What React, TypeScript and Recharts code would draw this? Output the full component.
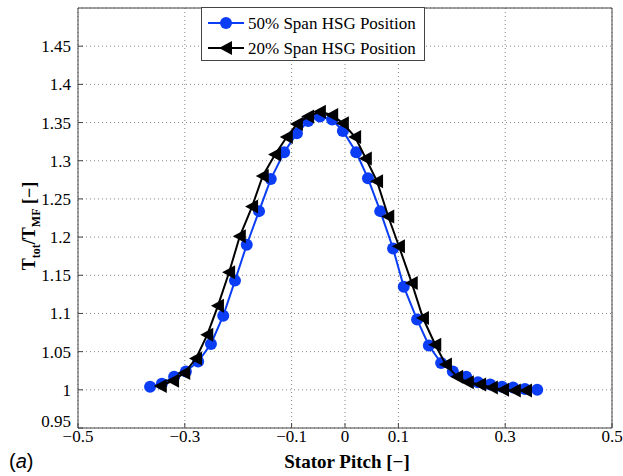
import React from "react";
import {
  ScatterChart,
  Scatter,
  XAxis,
  YAxis,
  CartesianGrid,
  ReferenceArea,
} from "recharts";

// 50% span HSG position (blue circles)
const span50X = [
  -0.365, -0.343, -0.32, -0.298, -0.275, -0.251, -0.228, -0.206, -0.184, -0.161, -0.139,
  -0.114, -0.09, -0.069, -0.047, -0.024, -0.004, 0.021, 0.043, 0.066, 0.09, 0.11,
  0.135, 0.157, 0.18, 0.202, 0.227, 0.249, 0.272, 0.294, 0.315, 0.337, 0.36,
];
const span50Y = [
  1.004, 1.008, 1.017, 1.024, 1.037, 1.06, 1.097, 1.143, 1.19, 1.234, 1.276,
  1.311, 1.336, 1.352, 1.358, 1.354, 1.339, 1.311, 1.277, 1.234, 1.185, 1.135,
  1.092, 1.058, 1.035, 1.024, 1.017, 1.01, 1.007, 1.004, 1.003, 1.001, 1.0,
];

// 20% span HSG position (black triangles)
const span20X = [
  -0.345, -0.322, -0.301, -0.279, -0.258, -0.238, -0.217, -0.197, -0.174, -0.154, -0.131,
  -0.109, -0.09, -0.069, -0.047, -0.024, -0.004, 0.019, 0.039, 0.06, 0.081, 0.101,
  0.125, 0.146, 0.169, 0.189, 0.21, 0.23, 0.253, 0.275, 0.296, 0.318, 0.339,
];
const span20Y = [
  1.005, 1.012, 1.022, 1.041, 1.072, 1.11, 1.154, 1.201, 1.24, 1.28, 1.308,
  1.331, 1.348, 1.358, 1.364, 1.36, 1.349, 1.331, 1.303, 1.273, 1.227, 1.188,
  1.14, 1.094, 1.059, 1.033, 1.017, 1.01, 1.007, 1.003, 1.0, 0.999, 0.999,
];

const xTicks = [-0.5, -0.3, -0.1, 0, 0.1, 0.3, 0.5];
const yTicks = [0.95, 1, 1.05, 1.1, 1.15, 1.2, 1.25, 1.3, 1.35, 1.4, 1.45];

const BLUE = "#0b3df5";
const AXIS = "#444";
const SERIF = "'Liberation Serif', 'Times New Roman', serif";
const MINUS = "\u2212";

const blueData = span50X.map((x, i) => ({ x, y: span50Y[i] }));
const blackData = span20X.map((x, i) => ({ x, y: span20Y[i] }));

const fmt = (v: number) => (v < 0 ? MINUS + Math.abs(v) : String(v));

const Dot = (props: any) => <circle cx={props.cx} cy={props.cy} r={6} fill={BLUE} />;

const Tri = (props: any) => {
  const { cx, cy } = props;
  return (
    <polygon
      points={`${cx - 7},${cy} ${cx + 6},${cy - 7} ${cx + 6},${cy + 7}`}
      fill="#000"
    />
  );
};

// matlab puts the bottom y label a bit higher than its tick
const YTick = (props: any) => {
  const { x, y, payload } = props;
  const lift = payload.value === 0.95 ? -7 : 0;
  return (
    <text
      x={x}
      y={y + lift}
      dy="0.355em"
      textAnchor="end"
      fontFamily={SERIF}
      fontSize={17}
      fill="#000"
    >
      {String(payload.value)}
    </text>
  );
};

const LegendBox = () => (
  <svg
    width={224}
    height={54}
    style={{ position: "absolute", left: 201, top: 7, overflow: "visible" }}
  >
    <rect x={0.5} y={0.5} width={223} height={53} fill="#fff" stroke={AXIS} />
    <line x1={7} x2={43} y1={16} y2={16} stroke={BLUE} strokeWidth={2} />
    <circle cx={25} cy={16} r={6} fill={BLUE} />
    <text x={47} y={22} fontFamily={SERIF} fontSize={17}>
      50% Span HSG Position
    </text>
    <line x1={7} x2={43} y1={41} y2={41} stroke="#000" strokeWidth={2} />
    <polygon points="18,41 31,34 31,48" fill="#000" />
    <text x={47} y={47} fontFamily={SERIF} fontSize={17}>
      20% Span HSG Position
    </text>
  </svg>
);

export default function App() {
  return (
    <div style={{ position: "absolute", left: 0, top: 0, width: 623, height: 476, background: "#fff" }}>
      <ScatterChart
        width={623}
        height={476}
        margin={{ top: 8, right: 11, bottom: 0, left: 0 }}
      >
        <CartesianGrid stroke="#888" strokeDasharray="1 3" />
        <XAxis
          dataKey="x"
          type="number"
          domain={[-0.5, 0.5]}
          ticks={xTicks}
          tickFormatter={fmt}
          height={48}
          axisLine={false}
          tickLine={{ stroke: AXIS }}
          tickSize={-5}
          tickMargin={7}
          tick={{ fill: "#000", fontSize: 17, fontFamily: SERIF }}
          interval={0}
        />
        <XAxis
          xAxisId="top"
          orientation="top"
          type="number"
          domain={[-0.5, 0.5]}
          ticks={xTicks}
          height={0}
          axisLine={false}
          tickLine={{ stroke: AXIS }}
          tickSize={-5}
          tick={false}
          interval={0}
        />
        <YAxis
          dataKey="y"
          type="number"
          domain={[0.95, 1.5]}
          ticks={yTicks}
          width={78}
          axisLine={false}
          tickLine={{ stroke: AXIS }}
          tickSize={-5}
          tickMargin={12}
          tick={<YTick />}
          interval={0}
          allowDataOverflow
        />
        <YAxis
          yAxisId="right"
          orientation="right"
          type="number"
          domain={[0.95, 1.5]}
          ticks={yTicks}
          width={0}
          axisLine={false}
          tickLine={{ stroke: AXIS }}
          tickSize={-5}
          tick={false}
          interval={0}
        />
        <ReferenceArea
          x1={-0.5}
          x2={0.5}
          y1={0.95}
          y2={1.5}
          fill="none"
          stroke={AXIS}
          strokeWidth={1}
          ifOverflow="visible"
        />
        <Scatter
          name="50% Span HSG Position"
          data={blueData}
          line={{ stroke: BLUE, strokeWidth: 2 }}
          lineType="joint"
          shape={Dot}
          isAnimationActive={false}
        />
        <Scatter
          name="20% Span HSG Position"
          data={blackData}
          line={{ stroke: "#000", strokeWidth: 2 }}
          lineType="joint"
          shape={Tri}
          isAnimationActive={false}
        />
      </ScatterChart>
      <svg
        width={623}
        height={476}
        style={{ position: "absolute", left: 0, top: 0, pointerEvents: "none" }}
      >
        <text
          transform="translate(35,226) rotate(-90)"
          textAnchor="middle"
          fontFamily={SERIF}
          fontWeight="bold"
          fontSize={18}
        >
          T<tspan fontSize={12} dy={5}>tot</tspan>
          <tspan dy={-5}>/T</tspan>
          <tspan fontSize={12} dy={5}>MF</tspan>
          <tspan dy={-5}>{" [" + MINUS + "]"}</tspan>
        </text>
        <text
          x={347}
          y={468}
          textAnchor="middle"
          fontFamily={SERIF}
          fontWeight="bold"
          fontSize={19}
        >
          {"Stator Pitch [" + MINUS + "]"}
        </text>
        <text x={9} y={468} fontFamily="'Liberation Sans', Arial, sans-serif" fontSize={20}>
          (<tspan fontStyle="italic">a</tspan>)
        </text>
      </svg>
      <LegendBox />
    </div>
  );
}
